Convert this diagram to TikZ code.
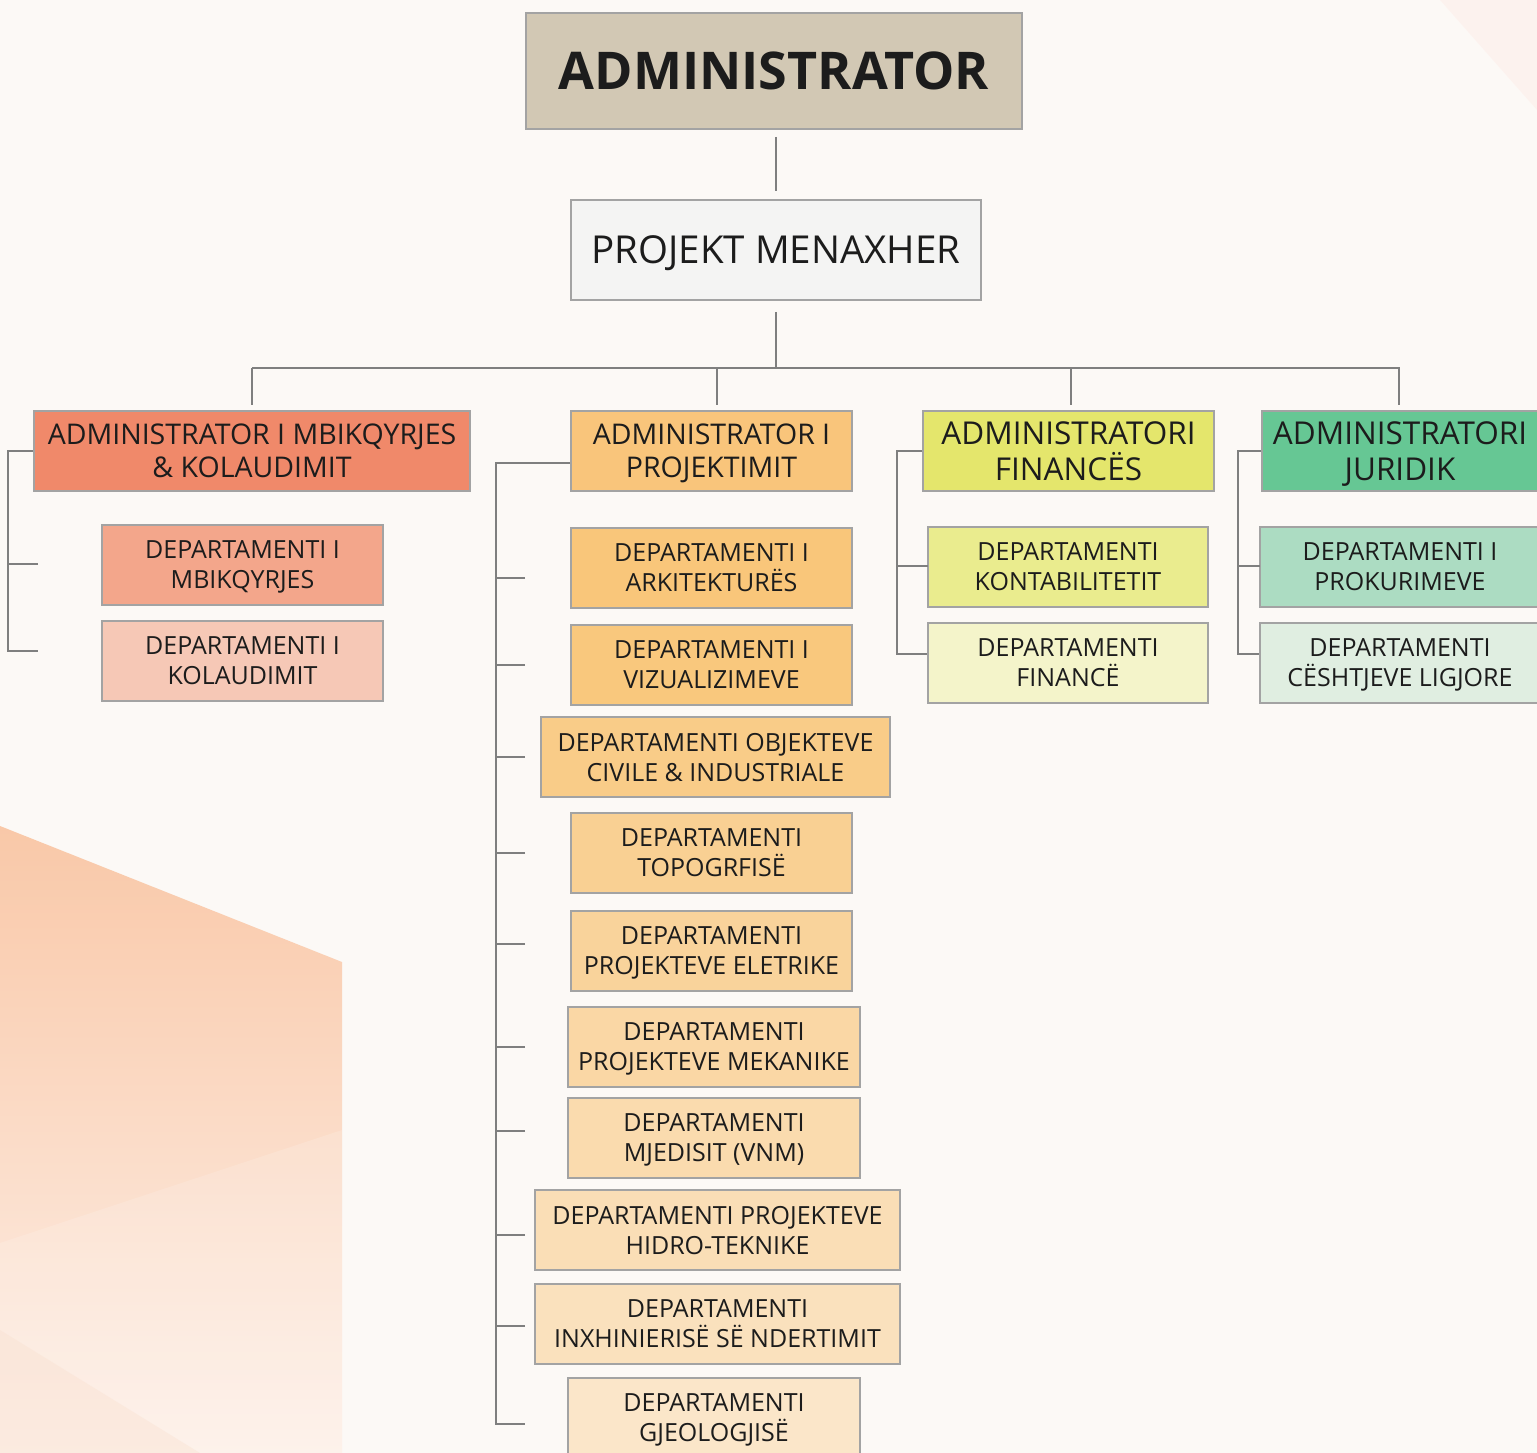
\documentclass[tikz,border=0pt]{standalone}
\usepackage{fontspec}
\setmainfont{Open Sans}
\usetikzlibrary{calc}
\newcommand\twol[2]{#1\\\smash{#2}}
\definecolor{bgc}{HTML}{FCF9F6}
\definecolor{linec}{HTML}{7F7F7F}
\definecolor{boxline}{HTML}{A3A3A3}
\definecolor{txt}{HTML}{1C1C1C}
\definecolor{cadm}{HTML}{D2C8B4}
\definecolor{cpm}{HTML}{F4F4F3}
\definecolor{ca1}{HTML}{F0896A}
\definecolor{ca2}{HTML}{F9C57B}
\definecolor{ca3}{HTML}{E4E66C}
\definecolor{ca4}{HTML}{66C794}
\definecolor{cd11}{HTML}{F3A68B}
\definecolor{cd12}{HTML}{F6C8B6}
\definecolor{cf1}{HTML}{EAEC8E}
\definecolor{cf2}{HTML}{F4F4CA}
\definecolor{cj1}{HTML}{ACDCC2}
\definecolor{cj2}{HTML}{E0EEE1}
\definecolor{cm1}{HTML}{F9C67A}
\definecolor{cm2}{HTML}{F9C87D}
\definecolor{cm3}{HTML}{F9CC88}
\definecolor{cm4}{HTML}{F9D093}
\definecolor{cm5}{HTML}{F9D39B}
\definecolor{cm6}{HTML}{FAD7A5}
\definecolor{cm7}{HTML}{FADBAE}
\definecolor{cm8}{HTML}{FADEB6}
\definecolor{cm9}{HTML}{FAE1BD}
\definecolor{cm10}{HTML}{FBE6C9}
\definecolor{peachtop}{HTML}{F9C8A8}
\definecolor{peachbot}{HTML}{FDF0E8}
\definecolor{peachlow}{HTML}{F9DECD}
\definecolor{pinkcorner}{HTML}{FCECE8}
\begin{document}
\begin{tikzpicture}[x=1pt,y=-1pt,
  conn/.style={draw=linec, line width=2pt},
  box/.style={rectangle, draw=boxline, line width=1.6pt, align=center, text=txt, inner sep=0pt},
  dept/.style={box, minimum height=80pt, font=\fontsize{25}{30}\selectfont},
  adminbox/.style={box, minimum height=80pt, font=\fontsize{28.5}{33}\selectfont},
  adminboxb/.style={box, minimum height=80pt, font=\fontsize{31.5}{36}\selectfont}]
\useasboundingbox (0,0) rectangle (1537,1453);
% background
\fill[bgc] (0,0) rectangle (1537,1453);
\shade[top color=peachtop, bottom color=peachbot]
  (0,826) -- (342,962) -- (342,1453) -- (0,1453) -- cycle;
\fill[white, opacity=0.15] (0,1243) -- (342,1130) -- (342,1453) -- (0,1453) -- cycle;
\fill[peachlow, opacity=0.35] (0,1453) -- (0,1330) -- (200,1453) -- cycle;
\fill[pinkcorner, opacity=0.5] (1440,0) -- (1537,0) -- (1537,110) -- cycle;

% top
\node[box, fill=cadm, minimum width=496pt, minimum height=116pt, font=\fontsize{52}{60}\selectfont\bfseries] (adm) at (774,71) {\smash{ADMINISTRATOR}\vphantom{T}};
\node[box, fill=cpm, minimum width=410pt, minimum height=100pt, font=\fontsize{38.5}{44}\selectfont] (pm) at (776,250) {\smash{PROJEKT MENAXHER}\vphantom{T}};

% admin level
\node[adminbox, fill=ca1, minimum width=436pt] (a1) at (252,451) {\twol{ADMINISTRATOR I MBIKQYRJES}{\& KOLAUDIMIT}};
\node[adminbox, fill=ca2, minimum width=281pt] (a2) at (711.5,451) {\twol{ADMINISTRATOR I}{PROJEKTIMIT}};
\node[adminboxb, fill=ca3, minimum width=291pt] (a3) at (1068.5,451) {\twol{ADMINISTRATORI}{FINANCËS}};
\node[adminboxb, fill=ca4, minimum width=276pt] (a4) at (1400,451) {\twol{ADMINISTRATORI}{JURIDIK}};

% left column
\node[dept, fill=cd11, minimum width=281pt] (d11) at (242.5,565) {\twol{DEPARTAMENTI I}{MBIKQYRJES}};
\node[dept, fill=cd12, minimum width=281pt] (d12) at (242.5,661) {\twol{DEPARTAMENTI I}{KOLAUDIMIT}};

% middle column
\node[dept, fill=cm1, minimum width=281pt] (m1) at (711.5,568) {\twol{DEPARTAMENTI I}{ARKITEKTURËS}};
\node[dept, fill=cm2, minimum width=281pt] (m2) at (711.5,665) {\twol{DEPARTAMENTI I}{VIZUALIZIMEVE}};
\node[dept, fill=cm3, minimum width=349pt] (m3) at (715.5,757) {\twol{DEPARTAMENTI OBJEKTEVE}{CIVILE \& INDUSTRIALE}};
\node[dept, fill=cm4, minimum width=281pt] (m4) at (711.5,853) {\twol{DEPARTAMENTI}{TOPOGRFISË}};
\node[dept, fill=cm5, minimum width=281pt] (m5) at (711.5,951) {\twol{DEPARTAMENTI}{PROJEKTEVE ELETRIKE}};
\node[dept, fill=cm6, minimum width=292pt] (m6) at (714,1047) {\twol{DEPARTAMENTI}{PROJEKTEVE MEKANIKE}};
\node[dept, fill=cm7, minimum width=292pt] (m7) at (714,1138) {\twol{DEPARTAMENTI}{MJEDISIT (VNM)}};
\node[dept, fill=cm8, minimum width=365pt] (m8) at (717.5,1230) {\twol{DEPARTAMENTI PROJEKTEVE}{HIDRO-TEKNIKE}};
\node[dept, fill=cm9, minimum width=365pt] (m9) at (717.5,1324) {\twol{DEPARTAMENTI}{INXHINIERISË SË NDERTIMIT}};
\node[dept, fill=cm10, minimum width=292pt] (m10) at (714,1418) {\twol{DEPARTAMENTI}{GJEOLOGJISË}};

% finance column
\node[dept, fill=cf1, minimum width=280pt] (f1) at (1068,567) {\twol{DEPARTAMENTI}{KONTABILITETIT}};
\node[dept, fill=cf2, minimum width=280pt] (f2) at (1068,663) {\twol{DEPARTAMENTI}{FINANCË}};

% juridik column
\node[dept, fill=cj1, minimum width=280pt] (j1) at (1400,567) {\twol{DEPARTAMENTI I}{PROKURIMEVE}};
\node[dept, fill=cj2, minimum width=280pt] (j2) at (1400,663) {\twol{DEPARTAMENTI}{CËSHTJEVE LIGJORE}};

% connectors: top
\coordinate (bus) at (776,368);
\draw[conn, shorten <=7pt, shorten >=8pt] (adm.south -| pm.north) -- (pm.north);
\draw[conn, shorten <=11pt] (pm.south) -- (pm.south |- bus);
\draw[conn] (a1.north |- bus) -- (a4.north |- bus);
\draw[conn, shorten >=5pt] (a1.north |- bus) -- (a1.north);
\draw[conn, shorten >=5pt] ([xshift=5.5pt]a2.north |- bus) -- ([xshift=5.5pt]a2.north);
\draw[conn, shorten >=5pt] ([xshift=2.5pt]a3.north |- bus) -- ([xshift=2.5pt]a3.north);
\draw[conn, shorten >=5pt] ([xshift=-1pt]a4.north |- bus) -- ([xshift=-1pt]a4.north);

% left bracket
\coordinate (t11) at (38,564);
\coordinate (t12) at (38,651);
\draw[conn] (a1.west) -- ++(-25,0) |- (t12);
\draw[conn] (t11) -- ++(-29,0);

% middle bracket
\coordinate (tm1) at (525,578);
\coordinate (tm2) at (525,665);
\coordinate (tm3) at (525,757);
\coordinate (tm4) at (525,853);
\coordinate (tm5) at (525,944);
\coordinate (tm6) at (525,1047);
\coordinate (tm7) at (525,1131);
\coordinate (tm8) at (525,1235);
\coordinate (tm9) at (525,1326);
\coordinate (tm10) at (525,1424);
\draw[conn] ([yshift=-12pt]a2.west) -- ++(-74,0) |- (tm10);
\foreach \t in {tm1,tm2,tm3,tm4,tm5,tm6,tm7,tm8,tm9}
  \draw[conn] (\t) -- ++(-28,0);

% finance bracket
\coordinate (tf1) at (928,566);
\coordinate (tf2) at (927,654);
\draw[conn] (a3.west) -- ++(-25,0) |- (tf2);
\draw[conn] (tf1) -- ++(-30,0);

% juridik bracket
\coordinate (tj1) at (1260,566);
\coordinate (tj2) at (1259,654);
\draw[conn] (a4.west) -- ++(-23,0) |- (tj2);
\draw[conn] (tj1) -- ++(-21,0);
\end{tikzpicture}
\end{document}
